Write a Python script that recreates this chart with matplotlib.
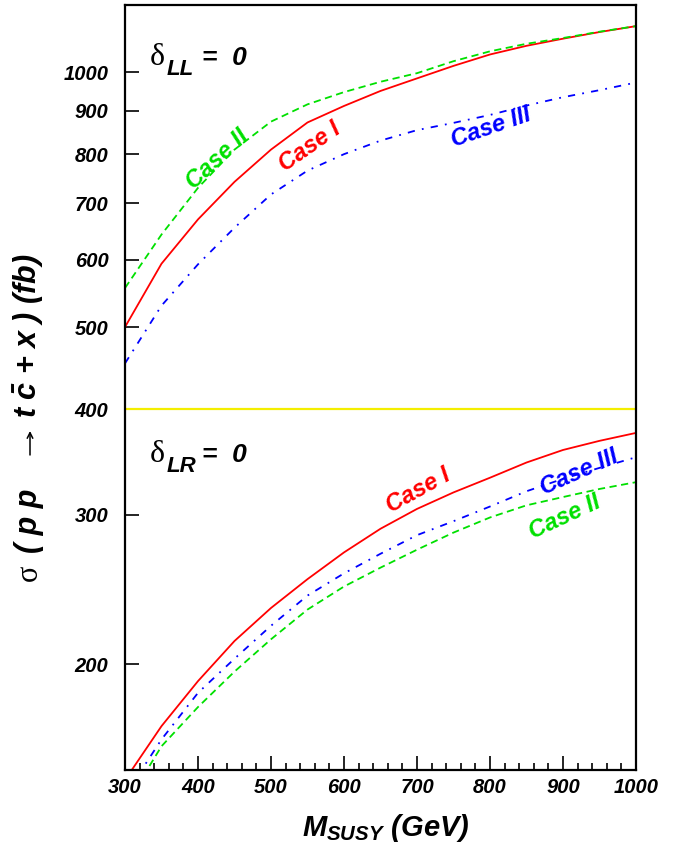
import matplotlib
matplotlib.use("Agg")
import matplotlib.pyplot as plt
from matplotlib.patches import FancyArrowPatch
from matplotlib.ticker import FixedLocator, NullLocator, MultipleLocator, FixedFormatter

plt.rcParams['font.family'] = ['Liberation Sans', 'DejaVu Sans']
plt.rcParams['font.weight'] = 'bold'
plt.rcParams['font.style'] = 'italic'
plt.rcParams['axes.labelweight'] = 'bold'
plt.rcParams['mathtext.fontset'] = 'custom'
plt.rcParams['mathtext.rm'] = 'Liberation Sans:bold:italic'
plt.rcParams['mathtext.it'] = 'Liberation Sans:bold:italic'
plt.rcParams['mathtext.bf'] = 'Liberation Sans:bold:italic'
plt.rcParams['mathtext.sf'] = 'Liberation Sans:bold:italic'

# M_SUSY grid (GeV)
m_susy = [300, 350, 400, 450, 500, 550, 600, 650, 700, 750, 800, 850, 900, 950, 1000]

# delta_LL = 0 (fb)
ll_case1 = [500, 594, 670, 742, 810, 872, 912, 950, 983, 1017, 1049, 1074, 1095, 1115, 1133]
ll_case2 = [556, 643, 730, 810, 874, 916, 947, 974, 997, 1030, 1058, 1080, 1097, 1116, 1133]
ll_case3 = [453, 530, 593, 655, 717, 765, 800, 830, 854, 871, 890, 913, 934, 952, 972]

# delta_LR = 0 (fb)
lr_case1 = [146, 169, 191, 213, 233, 252, 271, 289, 305, 319, 332, 346, 358, 367, 375]
lr_case2 = [136, 160, 178, 196, 214, 232, 247, 260, 273, 286, 298, 308, 315, 322, 328]
lr_case3 = [140, 163, 185, 203, 222, 241, 256, 270, 284, 295, 307, 320, 331, 341, 351]

y_ticks = [200, 300, 400, 500, 600, 700, 800, 900, 1000]

W, H = 683, 846
fig = plt.figure(figsize=(W / 100, H / 100), dpi=100)
ax = fig.add_axes([125 / W, 76 / H, 511 / W, 765 / H])


def fpos(px, py):
    # pixel position (from top-left) -> figure fraction
    return px / W, 1 - py / H


red, green, blue = '#ff0000', '#00e000', '#0000ff'
dash = (0, (4, 2.5))
dashdot = (0, (4, 4, 1, 4))
ax.plot(m_susy, ll_case1, color=red, lw=1.3, ls='-')
ax.plot(m_susy, ll_case2, color=green, lw=1.3, ls=dash)
ax.plot(m_susy, ll_case3, color=blue, lw=1.3, ls=dashdot)
ax.plot(m_susy, lr_case1, color=red, lw=1.3, ls='-')
ax.plot(m_susy, lr_case2, color=green, lw=1.3, ls=dash)
ax.plot(m_susy, lr_case3, color=blue, lw=1.3, ls=dashdot)

ax.axhline(400, color='#f4ee00', lw=1.6)

ax.set_yscale('log')
ax.set_xlim(300, 1000)
ax.set_ylim(150, 1200)

ax.yaxis.set_major_locator(FixedLocator(y_ticks))
ax.yaxis.set_major_formatter(FixedFormatter([str(v) for v in y_ticks]))
ax.yaxis.set_minor_locator(NullLocator())
ax.xaxis.set_major_locator(MultipleLocator(100))
ax.xaxis.set_minor_locator(MultipleLocator(20))

ax.tick_params(axis='y', which='major', direction='in', length=10, width=1.2,
               labelsize=14.5, pad=12, right=False)
ax.tick_params(axis='x', which='major', direction='in', length=10, width=1.2,
               labelsize=14.5, pad=6, top=False)
ax.tick_params(axis='x', which='minor', direction='in', length=5, width=1.2, top=False)
for lab in ax.get_xticklabels() + ax.get_yticklabels():
    lab.set_fontweight('bold')
    lab.set_fontstyle('italic')

for s in ax.spines.values():
    s.set_linewidth(1.6)

ax.set_xlabel(r'$M_{SUSY}$ (GeV)', fontsize=21)
ax.xaxis.set_label_coords(0.51, -0.076)
ax.xaxis.label.set_va('center')

# y-axis title built from pieces: serif sigma, thin arrow, bold italic rest
yl_x = 29
fig.text(*fpos(yl_x, 573), '\u03c3', family='Liberation Serif', style='normal',
         weight='normal', fontsize=22, rotation=90, ha='center', va='center')
fig.text(*fpos(yl_x, 521), '( p p', fontsize=22, rotation=90, ha='center', va='center')
fig.patches.append(FancyArrowPatch(fpos(yl_x + 1, 455), fpos(yl_x + 1, 431),
                                   transform=fig.transFigure, figure=fig,
                                   arrowstyle='->', mutation_scale=10,
                                   shrinkA=0, shrinkB=0, lw=1.1, color='black'))
fig.text(*fpos(yl_x, 336), r't $\bar{c}$ + x ) (fb)', fontsize=22, rotation=90,
         ha='center', va='center')


def delta_label(px, py, sub):
    fig.text(*fpos(px, py), '\u03b4', family='Liberation Serif', style='normal',
             weight='normal', fontsize=23, ha='left', va='baseline')
    fig.text(*fpos(px + 17, py + 10), sub, fontsize=16, ha='left', va='baseline')
    fig.text(*fpos(px + 52, py), '=  0', fontsize=19, ha='left', va='baseline')


delta_label(150, 65, 'LL')
delta_label(150, 462, 'LR')

case_labels = [
    ('Case II', 426, 788, 43, green),
    ('Case I', 553, 817, 35, red),
    ('Case III', 802, 860, 19, blue),
    ('Case I', 702, 321, 29, red),
    ('Case III', 922, 337, 24, blue),
    ('Case II', 903, 298, 25, green),
]
for txt, xv, yv, rot, col in case_labels:
    ax.text(xv, yv, txt, color=col, fontsize=17, rotation=rot,
            ha='center', va='center', rotation_mode='anchor')

fig.savefig('out.png', dpi=100)
